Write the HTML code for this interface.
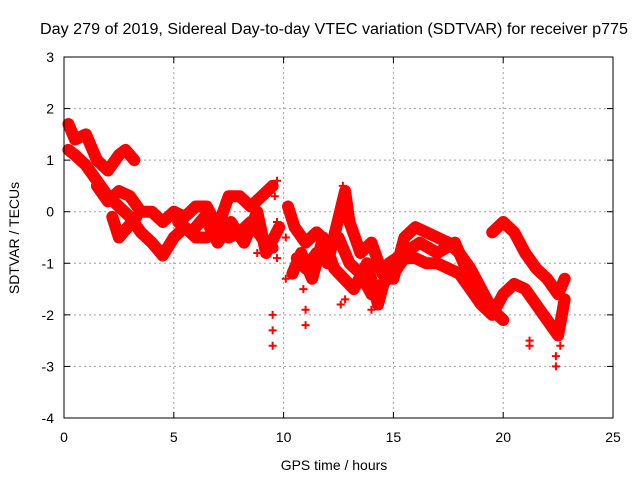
<!DOCTYPE html>
<html><head><meta charset="utf-8"><style>
body{margin:0;background:#fff;}
svg text{font-family:"Liberation Sans",sans-serif;font-size:14px;fill:#000;}
</style></head><body>
<svg id="c" width="640" height="480" xmlns="http://www.w3.org/2000/svg">
<rect width="640" height="480" fill="#fff"/>
<g id="grid"></g><g id="data"></g><g id="axes"></g>
<text x="334" y="34" text-anchor="middle" textLength="588" lengthAdjust="spacingAndGlyphs" style="font-size:15.5px">Day 279 of 2019, Sidereal Day-to-day VTEC variation (SDTVAR) for receiver p775</text>
<text x="334" y="470" text-anchor="middle">GPS time / hours</text>
<text x="0" y="0" text-anchor="middle" transform="translate(19,238) rotate(-90)">SDTVAR / TECUs</text>
</svg>
<script>
const xTicks=[0,5,10,15,20,25];
const yTicks=[3,2,1,0,-1,-2,-3,-4];
const trackA=[[0.2,1.7],[0.5,1.4],[1,1.5],[1.5,1.0],[2,0.8],[2.5,1.1],[2.8,1.2],[3.2,1.0]];
const trackB=[[0.2,1.2],[0.5,1.1],[1,0.9],[1.5,0.6],[2,0.3],[2.5,0.1],[3,-0.1],[3.5,-0.4],[4,-0.6],[4.5,-0.85],[5,-0.5],[5.5,-0.3],[6,-0.5],[6.5,-0.5],[7,-0.4],[7.5,-0.5],[8,-0.4],[8.5,-0.2],[9,-0.5],[9.5,-0.7]];
const trackC=[[1.5,0.5],[2,0.2],[2.5,0.4],[3,0.3],[3.5,0.0],[4,0.0],[4.5,-0.2],[5,0.0],[5.5,-0.1],[6,0.1],[6.5,0.1],[7,-0.3],[7.5,0.3],[8,0.3],[8.5,0.1],[9,0.3],[9.5,0.5]];
const trackD=[[2.2,-0.1],[2.5,-0.5],[2.9,-0.3],[3.3,-0.1]];
const trackH=[[5.2,-0.2],[5.8,-0.4],[6.4,-0.1],[7,-0.6],[7.6,-0.2],[8.2,-0.6],[8.8,0.0],[9.2,-0.8],[9.8,-0.3]];
const trackE=[[10.2,0.1],[10.5,-0.3],[11,-0.6],[11.5,-0.4],[12,-0.6],[12.5,-0.5],[13,-1.0],[13.5,-1.2],[14,-1.6],[14.5,-1.4],[15,-1.2],[15.5,-0.9],[16,-0.9],[16.5,-1.0],[17,-1.0],[17.5,-1.1],[18,-1.2],[18.5,-1.5],[19,-1.8],[19.5,-2.0],[20,-1.6],[20.5,-1.4],[21,-1.5],[21.5,-1.8],[22,-2.1],[22.5,-2.4],[22.8,-1.7]];
const trackF=[[10.6,-0.9],[11,-1.1],[11.5,-0.8],[12,-1.0],[12.8,0.4],[13,-0.2],[13.5,-0.8],[14,-0.6],[14.5,-1.2],[15,-1.3],[15.5,-0.5],[16,-0.3],[16.5,-0.4],[17,-0.5],[17.5,-0.6],[18,-0.8],[18.5,-1.1],[19,-1.5],[19.5,-1.9],[20,-2.1]];
const trackI=[[10.4,-1.2],[10.8,-0.8],[11.3,-1.3],[11.8,-0.5],[12.3,-1.1],[13.2,-1.5],[13.8,-1.0],[14.3,-1.8],[14.8,-1.0],[16.2,-0.6],[17,-0.8],[17.8,-0.6],[18.2,-1.0]];
const trackG=[[19.5,-0.4],[20,-0.2],[20.5,-0.4],[21,-0.8],[21.5,-1.1],[22,-1.3],[22.5,-1.6],[22.8,-1.3]];
const spikes=[[9.7,0.6],[9.7,-0.2],[9.7,-0.9],[9.5,-2.0],[9.5,-2.3],[9.5,-2.6],[10.1,-0.5],[10.1,-1.3],[10.9,-1.5],[11,-1.9],[11,-2.2],[12.6,-1.8],[14,-1.9],[21.2,-2.5],[21.2,-2.6],[22.4,-2.8],[22.4,-3.0],[22.6,-2.6],[9.6,0.3],[12.7,0.5],[12.8,-1.7],[8.8,-0.8]];
const X=h=>64+h*(613-64)/25, Y=v=>57+(3-v)*(418-57)/7;
const NS="http://www.w3.org/2000/svg";
function mk(t,a,p){const e=document.createElementNS(NS,t);for(const k in a)e.setAttribute(k,a[k]);p.appendChild(e);return e;}
const grid=document.getElementById('grid'),axes=document.getElementById('axes'),data=document.getElementById('data');
xTicks.forEach(t=>{
 if(t>0&&t<25){const l=mk('line',{x1:X(t),x2:X(t),y1:57,y2:418,stroke:'#a0a0a0','stroke-dasharray':'2,3'},grid);
 }
 const tx=mk('text',{x:X(t),y:442,'text-anchor':'middle'},axes);tx.textContent=t;
 
 mk('line',{x1:X(t),x2:X(t),y1:418,y2:412,stroke:'#000'},axes);mk('line',{x1:X(t),x2:X(t),y1:57,y2:63,stroke:'#000'},axes);
});
yTicks.forEach(t=>{
 if(t<3&&t>-4){const l=mk('line',{x1:64,x2:613,y1:Y(t),y2:Y(t),stroke:'#a0a0a0','stroke-dasharray':'2,3'},grid);
 }
 const tx=mk('text',{x:54,y:Y(t)+5,'text-anchor':'end'},axes);tx.textContent=t;
 
 mk('line',{x1:64,x2:70,y1:Y(t),y2:Y(t),stroke:'#000'},axes);mk('line',{x1:613,x2:607,y1:Y(t),y2:Y(t),stroke:'#000'},axes);
});
const fr=mk('rect',{x:64,y:57,width:549,height:361,fill:'none',stroke:'#000'},axes);

function plus(h,v){const x=X(h),y=Y(v);mk('path',{d:`M${x-4},${y}h8M${x},${y-4}v8`,stroke:'#f00','stroke-width':1},data);}
[trackA,trackB,trackC,trackD,trackH,trackE,trackF,trackI,trackG].forEach(tr=>{
 const pl=mk('polyline',{points:tr.map(p=>X(p[0])+','+Y(p[1])).join(' '),fill:'none',stroke:'#f00','stroke-width':12,'stroke-linejoin':'round','stroke-linecap':'round'},data);
 
 tr.forEach(p=>plus(p[0],p[1]));
});
spikes.forEach(p=>{const g=mk('path',{d:`M${X(p[0])-4},${Y(p[1])}h8M${X(p[0])},${Y(p[1])-4}v8`,stroke:'#f00','stroke-width':2},data);
 });
</script>
</body></html>
